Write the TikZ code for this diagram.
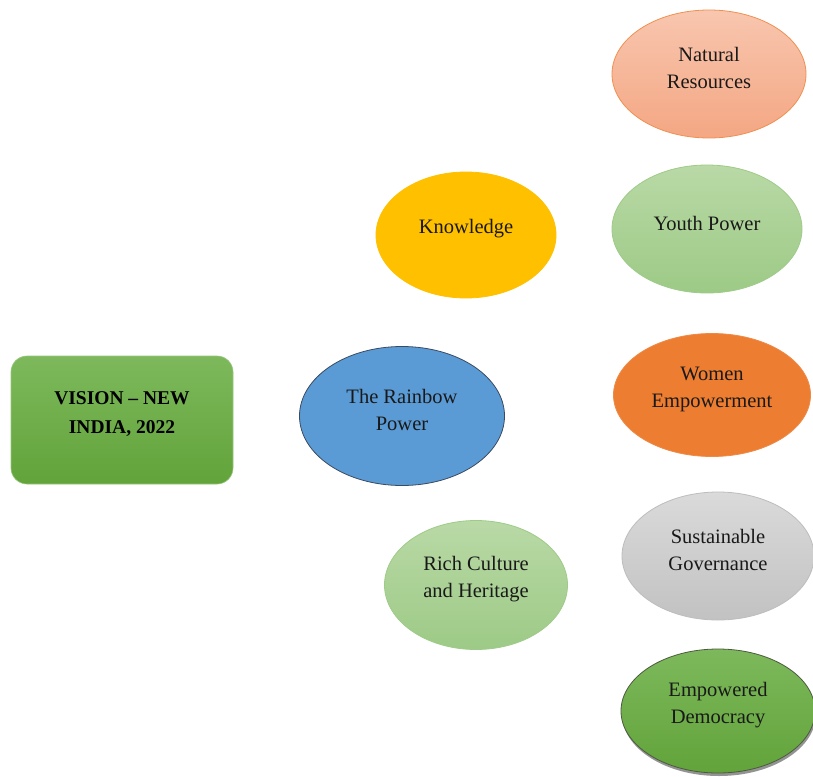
\documentclass[tikz,border=0pt]{standalone}
\usepackage{fontspec}
\setmainfont{Liberation Serif}
\usetikzlibrary{shapes.geometric,shadows}
\definecolor{boxtop}{HTML}{7DB95C}
\definecolor{boxbot}{HTML}{62A33A}
\definecolor{salmtop}{HTML}{F8C6AF}
\definecolor{salmbot}{HTML}{F4A783}
\definecolor{orng}{HTML}{ED7D31}
\definecolor{lgtop}{HTML}{B9D9A6}
\definecolor{lgbot}{HTML}{9DCA86}
\definecolor{lgline}{HTML}{9FCB89}
\definecolor{blu}{HTML}{5B9BD5}
\definecolor{bluline}{HTML}{3A4A60}
\definecolor{gold}{HTML}{FFC000}
\definecolor{grtop}{HTML}{DADADA}
\definecolor{grbot}{HTML}{C2C2C2}
\definecolor{grline}{HTML}{BDBDBD}
\definecolor{dkline}{HTML}{4D5A40}
\tikzset{
  ellip/.style={ellipse, inner sep=0pt, line width=0.8pt},
  txt/.style={align=center, font=\fontsize{20.5}{27}\selectfont, text=black!90},
  btxt/.style={align=center, font=\fontsize{19.5}{29}\selectfont\bfseries, text=black},
}
\begin{document}
\begin{tikzpicture}[x=1pt,y=-1pt]
\useasboundingbox[fill=white] (0,0) rectangle (813,776);
% central box
\node[rounded corners=16pt, minimum width=222pt, minimum height=128pt, top color=boxtop, bottom color=boxbot, draw=boxtop!80!white, line width=0.6pt] (vision) at (122,420) {};
\node[btxt] (visiontxt) at ([yshift=6pt]vision.center) {VISION -- NEW\\INDIA, 2022};
% middle column
\node[ellip, minimum width=205pt, minimum height=139pt, fill=blu, draw=bluline] (rainbow) at (402,416) {};
\node[txt] (rainbowtxt) at ([yshift=6pt]rainbow.center) {The Rainbow\\Power};
\node[ellip, minimum width=180pt, minimum height=126pt, fill=gold, draw=gold] (know) at (466,235) {};
\node[txt] (knowtxt) at ([yshift=6pt]know.center) {Knowledge};
\node[ellip, minimum width=183pt, minimum height=129pt, top color=lgtop, bottom color=lgbot, draw=lgline] (rich) at (476,585) {};
\node[txt] (richtxt) at ([yshift=6pt]rich.center) {Rich Culture\\and Heritage};
% right column
\node[ellip, minimum width=194pt, minimum height=128pt, top color=salmtop, bottom color=salmbot, draw=orng!85!white] (natural) at (709,74) {};
\node[txt] (naturaltxt) at ([yshift=6pt]natural.center) {Natural\\Resources};
\node[ellip, minimum width=190pt, minimum height=128pt, top color=lgtop, bottom color=lgbot, draw=lgline] (youth) at (707,229) {};
\node[txt] (youthtxt) at ([yshift=6pt]youth.center) {Youth Power};
\node[ellip, minimum width=197pt, minimum height=123pt, fill=orng, draw=orng!90!white] (women) at (712,395) {};
\node[txt] (womentxt) at ([yshift=6pt]women.center) {Women\\Empowerment};
\node[ellip, minimum width=192pt, minimum height=128pt, top color=grtop, bottom color=grbot, draw=grline] (sust) at (718,556) {};
\node[txt] (susttxt) at ([yshift=6pt]sust.center) {Sustainable\\Governance};
\node[ellip, minimum width=194pt, minimum height=124pt, top color=boxtop, bottom color=boxbot, draw=dkline, drop shadow={shadow xshift=1pt, shadow yshift=-3pt, fill=black!70, opacity=0.6}] (demo) at (718,711) {};
\node[txt] (demotxt) at ([yshift=6pt]demo.center) {Empowered\\Democracy};
\end{tikzpicture}
\end{document}
